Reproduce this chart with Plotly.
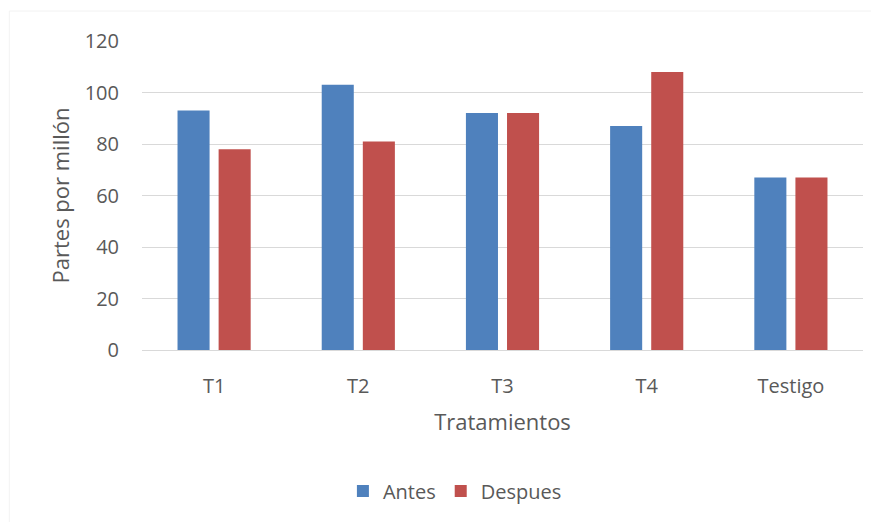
import plotly.graph_objects as go

categorias = ["T1", "T2", "T3", "T4", "Testigo"]
antes = [93, 103, 92, 87, 67]
despues = [78, 81, 92, 108, 67]
y_ticks = [0, 20, 40, 60, 80, 100, 120]

FONT = "Open Sans"
GRIS_TEXTO = "#595959"

fig = go.Figure()
fig.add_trace( go.Bar( x=categorias, y=antes, name="Antes",
                       marker={ "color" : "#4F81BD", "line" : { "width" : 0 } } ) )
fig.add_trace( go.Bar( x=categorias, y=despues, name="Despues",
                       marker={ "color" : "#C0504D", "line" : { "width" : 0 } } ) )

fig.update_yaxes( range=[0, 120], tickvals=y_ticks, showgrid=True, gridcolor="#D9D9D9", gridwidth=1,
                  zeroline=False, showline=False, ticks="", ticklabelstandoff=22,
                  tickfont={ "size" : 20, "color" : GRIS_TEXTO },
                  title={ "text" : "Partes por millón", "standoff" : 8,
                          "font" : { "size" : 22, "color" : GRIS_TEXTO } } )
fig.update_xaxes( showline=True, linecolor="#D9D9D9", linewidth=1, ticks="", ticklabelstandoff=18,
                  tickfont={ "size" : 20, "color" : GRIS_TEXTO },
                  title={ "text" : "Tratamientos", "standoff" : 16,
                          "font" : { "size" : 22, "color" : GRIS_TEXTO } } )

# chart area border, like the Excel frame
fig.add_shape( type="rect", xref="paper", yref="paper", x0=-0.184, x1=1.05, y0=-0.6, y1=1.097,
               line={ "color" : "#D9D9D9", "width" : 1 }, fillcolor="rgba(0,0,0,0)" )

# page body keeps an 8px margin, so the figure is 8px smaller
fig.update_layout( template="simple_white",
                   width=871, height=514,
                   barmode="group", bargap=0.43, bargroupgap=0.22,
                   plot_bgcolor="white", paper_bgcolor="white",
                   font={ "family" : FONT, "color" : GRIS_TEXTO },
                   margin={ "l" : 134, "r" : 16, "t" : 33, "b" : 172 },
                   showlegend=True,
                   legend=dict( orientation="h", xanchor="center", x=0.434,
                                yanchor="middle", y=-0.456,
                                font={ "size" : 20, "color" : GRIS_TEXTO },
                                bgcolor="rgba(0,0,0,0)" ) )

fig.write_html( "out.html" )
